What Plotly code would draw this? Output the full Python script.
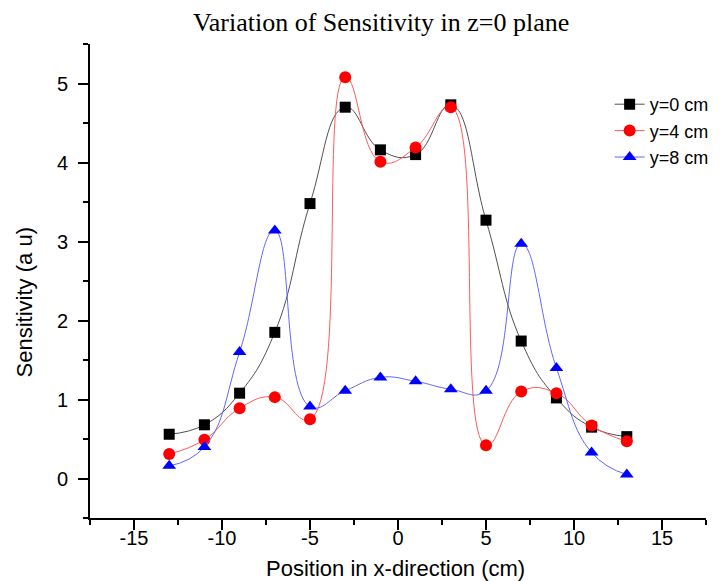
import plotly.graph_objects as go

# Sensitivity measured along x at three y offsets (z = 0 plane)
positions = [-13, -11, -9, -7, -5, -3, -1, 1, 3, 5, 7, 9, 11, 13]
sens_y0 = [0.56, 0.68, 1.08, 1.85, 3.48, 4.70, 4.16, 4.10, 4.73, 3.27, 1.74, 1.02, 0.65, 0.53]
sens_y4 = [0.31, 0.49, 0.89, 1.03, 0.75, 5.08, 4.01, 4.19, 4.70, 0.42, 1.10, 1.08, 0.67, 0.47]
sens_y8 = [0.16, 0.40, 1.60, 3.14, 0.91, 1.11, 1.28, 1.23, 1.13, 1.11, 2.97, 1.40, 0.33, 0.05]

x_tick_vals = [-15, -10, -5, 0, 5, 10, 15]
x_tick_text = ["-15", "-10", "-5", "0", "5", "10", "15"]
y_tick_vals = [0, 1, 2, 3, 4, 5]
y_tick_text = ["0", "1", "2", "3", "4", "5"]

series = [
    ("y=0 cm", sens_y0, "rgb(80,80,80)", "black", "square", 11),
    ("y=4 cm", sens_y4, "rgb(255,90,90)", "red", "circle", 12),
    ("y=8 cm", sens_y8, "rgb(100,100,255)", "blue", "triangle-up", 12),
]

fig = go.Figure()
for name, vals, line_col, mark_col, sym, size in series:
    fig.add_trace(go.Scatter(
        x=positions, y=vals, name=name, mode="lines+markers",
        line=dict(color=line_col, width=1, shape="spline", smoothing=1.3),
        marker=dict(color=mark_col, symbol=sym, size=size, line=dict(width=0)),
    ))

sans = "Liberation Sans, Arial, sans-serif"
axis_font = dict(family=sans, size=20, color="black")

fig.update_layout(
    width=726, height=581,
    margin=dict(l=90, r=16, t=44, b=63),
    paper_bgcolor="white", plot_bgcolor="white",
    showlegend=True,
    title=dict(
        text="Variation of Sensitivity in z=0 plane",
        font=dict(family="Liberation Serif, Times New Roman, serif", size=26, color="black"),
        xref="paper", x=(383 - 90) / 620, xanchor="center",
        yref="container", y=1 - 22 / 581, yanchor="middle",
    ),
    legend=dict(
        x=(613 - 90) / 620, xanchor="left",
        y=1 - (86 - 44) / 474, yanchor="top",
        bgcolor="rgba(0,0,0,0)",
        font=dict(family=sans, size=18, color="black"),
        tracegroupgap=0,
    ),
    xaxis=dict(
        range=[-17.5, 17.5], tickmode="array",
        tickvals=x_tick_vals, ticktext=x_tick_text,
        showgrid=False, zeroline=False, automargin=False,
        showline=True, linecolor="black", linewidth=2,
        ticks="outside", ticklen=10, tickwidth=2, tickcolor="black",
        ticklabelstandoff=-9,
        tickfont=axis_font,
        minor=dict(dtick=2.5, tick0=0, ticks="outside", ticklen=5, tickwidth=2,
                   tickcolor="black", showgrid=False),
    ),
    yaxis=dict(
        range=[-0.5, 5.5], tickmode="array",
        tickvals=y_tick_vals, ticktext=y_tick_text,
        showgrid=False, zeroline=False, automargin=False,
        showline=True, linecolor="black", linewidth=2,
        ticks="outside", ticklen=10, tickwidth=2, tickcolor="black",
        ticklabelstandoff=6,
        tickfont=axis_font,
        minor=dict(dtick=0.5, tick0=0, ticks="outside", ticklen=5, tickwidth=2,
                   tickcolor="black", showgrid=False),
    ),
    annotations=[
        dict(
            text="Sensitivity (a u)", textangle=-90,
            xref="paper", yref="paper",
            x=(24 - 90) / 620, y=(518 - 302) / 474,
            xanchor="center", yanchor="middle", showarrow=False,
            font=dict(family=sans, size=22, color="black"),
        ),
        dict(
            text="Position in x-direction (cm)",
            xref="paper", yref="paper",
            x=(397 - 90) / 620, y=(518 - 568) / 474,
            xanchor="center", yanchor="middle", showarrow=False,
            font=dict(family=sans, size=22, color="black"),
        ),
    ],
)

fig.write_html("out.html")
